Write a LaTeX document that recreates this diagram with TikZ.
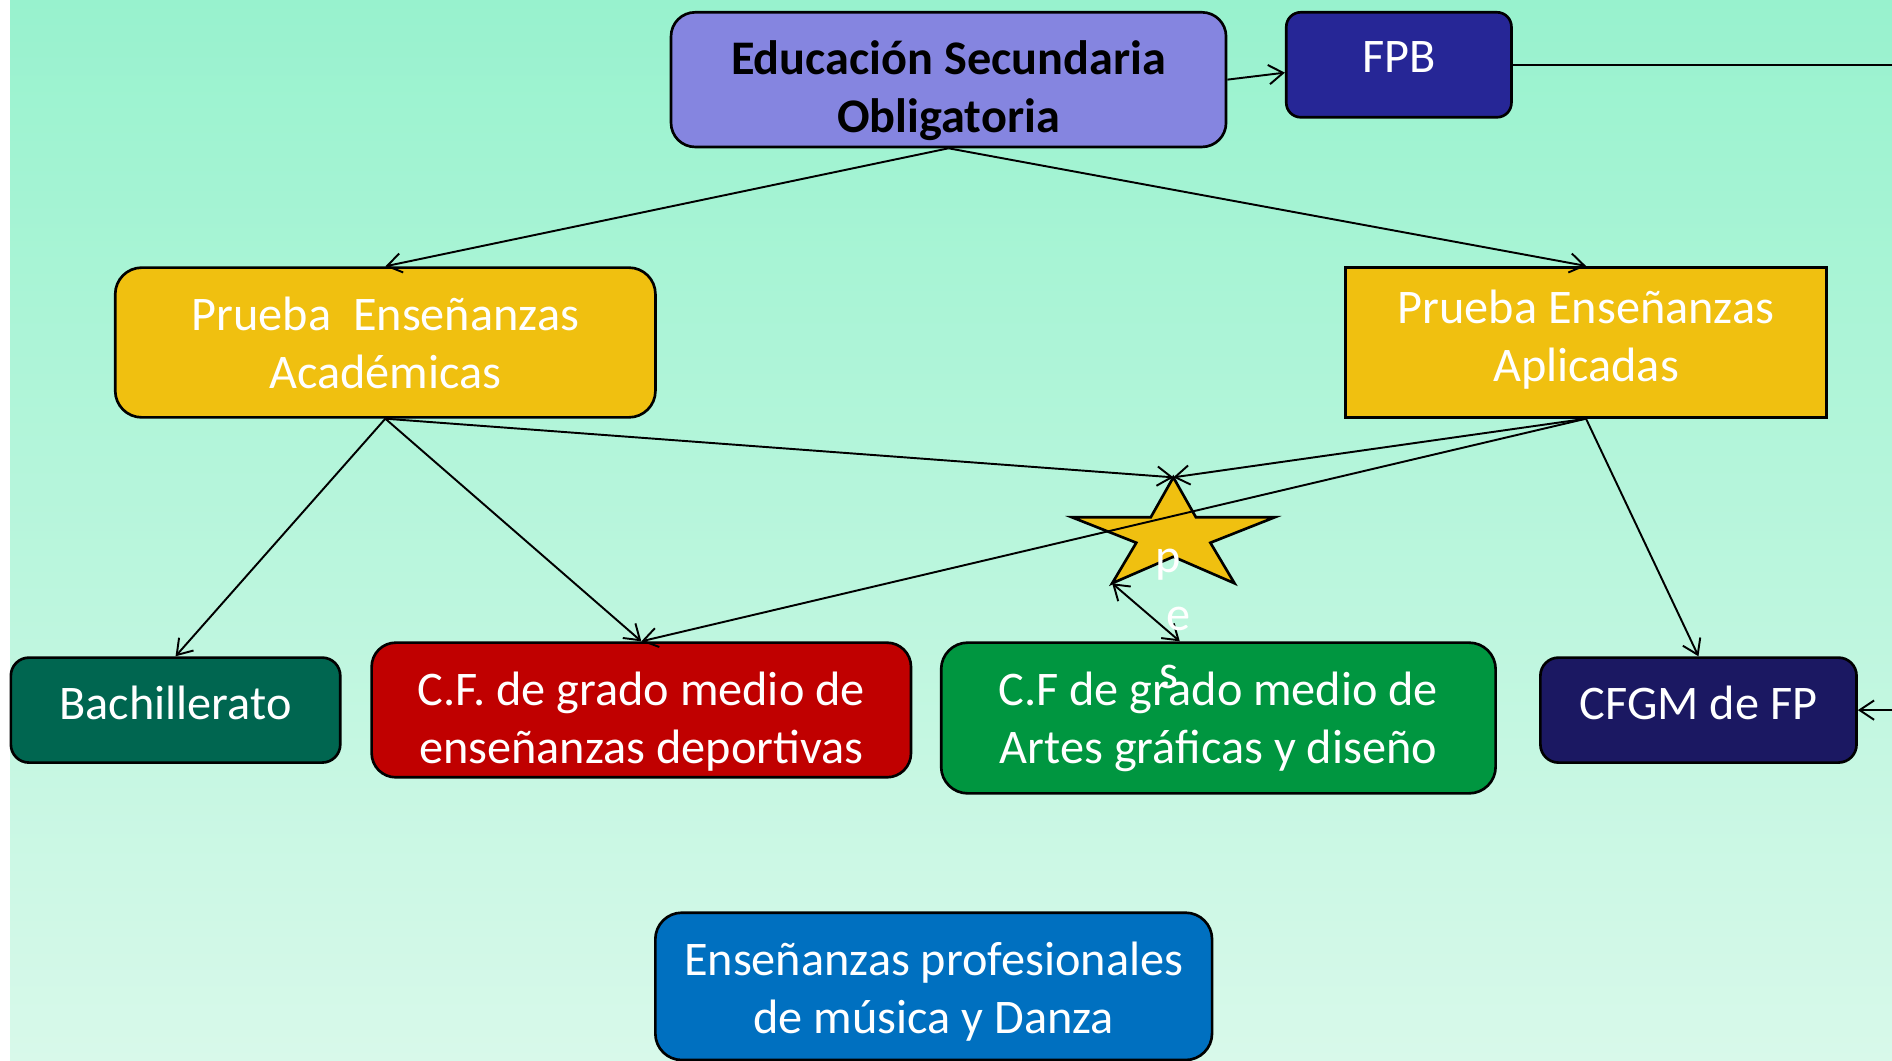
\documentclass[tikz,border=0pt]{standalone}
\usepackage{fontspec}
\setmainfont{Carlito}
\usetikzlibrary{arrows.meta,calc}
\definecolor{bgtop}{RGB}{152,242,206}
\definecolor{bgbot}{RGB}{216,249,234}
\definecolor{esoc}{RGB}{133,133,224}
\definecolor{fpbc}{RGB}{38,38,150}
\definecolor{goldc}{RGB}{240,192,16}
\definecolor{bachc}{RGB}{0,102,80}
\definecolor{redc}{RGB}{192,0,0}
\definecolor{greenc}{RGB}{0,150,64}
\definecolor{cfgmc}{RGB}{27,24,98}
\definecolor{bluec}{RGB}{0,112,192}
\begin{document}
\begin{tikzpicture}[x=1pt,y=-1pt,
  box/.style={draw=black,line width=2.2pt,inner sep=0pt,rounded corners=#1},
  box/.default=20pt,
  sharpbox/.style={draw=black,line width=2.2pt,inner sep=0pt},
  txt/.style={text=white,inner sep=0pt,align=center,font=\fontsize{40}{48}\selectfont},
  conn/.style={line width=1.6pt,-{Straight Barb[length=12pt,width=16pt]}},
  conntwo/.style={line width=1.6pt,{Straight Barb[length=12pt,width=16pt]}-{Straight Barb[length=12pt,width=16pt]}},
  plainline/.style={line width=1.6pt}
]
\useasboundingbox (0,0) rectangle (1568,879.3);
% background
\shade[top color=bgtop,bottom color=bgbot] (0,0) rectangle (1568,879.3);
\fill[white] (0,0) rectangle (8,879.3);

% boxes
\node[box, fill=esoc, minimum width=460pt, minimum height=111.6pt] (eso) at (786.1,66) {};
\node[box=12pt, fill=fpbc, minimum width=186.6pt, minimum height=87pt] (fpb) at (1159.3,53.7) {};
\node[box=22pt, fill=goldc, minimum width=447.7pt, minimum height=124.1pt] (acad) at (319.35,283.85) {};
\node[sharpbox, fill=goldc, minimum width=398.8pt, minimum height=124.4pt] (apli) at (1314.4,283.7) {};
\node[box=15pt, fill=bachc, minimum width=273pt, minimum height=87pt] (bach) at (145.5,588.5) {};
\node[box, fill=redc, minimum width=447pt, minimum height=111.6pt] (red) at (531.5,588.4) {};
\node[box=22pt, fill=greenc, minimum width=459.5pt, minimum height=124.9pt] (grn) at (1009.75,595.05) {};
\node[box=15pt, fill=cfgmc, minimum width=262pt, minimum height=87pt] (cfgm) at (1407.6,588.5) {};
\node[box=22pt, fill=bluec, minimum width=461.4pt, minimum height=122.1pt] (blue) at (773.8,817.45) {};

% texts
\node[txt, text=black, font=\fontsize{40}{48}\selectfont\bfseries] (esot) at (786.1,76.4) {\strut Educación Secundaria\\\strut Obligatoria};
\node[txt] (fpbt) at (1159.3,50.7) {\strut FPB};
\node[txt] (acadt) at (319.4,288.6) {\strut Prueba~~Enseñanzas\\\strut Académicas};
\node[txt] (aplit) at (1314.4,282.7) {\strut Prueba Enseñanzas\\\strut Aplicadas};
\node[txt] (bacht) at (145.5,586.4) {\strut Bachillerato};
\node[txt] (redt) at (531.5,599.1) {\strut C.F. de grado medio de\\\strut enseñanzas deportivas};
\node[txt] (grnt) at (1009.75,599.1) {\strut C.F de grado medio de\\\strut Artes gráficas y diseño};
\node[txt] (cfgmt) at (1407.6,586.4) {\strut CFGM de FP};
\node[txt] (bluet) at (773.8,822.9) {\strut Enseñanzas profesionales\\\strut de música y Danza};

% star
\coordinate (startop) at (972.4,395.6);
\coordinate (starbl) at (921.7,483.4);
\draw[line width=2.2pt, fill=goldc, line join=miter]
  (startop) -- (991.1,428.7) -- (1056.4,428.7) -- (1003.1,449.8) -- (1023.1,483.4)
  -- (972.4,461.4) -- (starbl) -- (941.7,449.8) -- (888.4,428.7) -- (953.7,428.7) -- cycle;

% edge coordinates
\coordinate (edgeA) at (1568,53.7);
\coordinate (edgeB) at (1568,588.5);

% connectors
\draw[conn] (eso.east) -- ($(fpb.west)+(0,6.5)$);
\draw[conn] (eso.south) -- (acad.north);
\draw[conn] (eso.south) -- (apli.north);
\draw[conn] (acad.south) -- (bach.north);
\draw[conn] (acad.south) -- (red.north);
\draw[conn] (acad.south) -- (startop);
\draw[conn] (apli.south) -- (startop);
\draw[conn] (apli.south) -- (red.north);
\draw[conn] (apli.south) -- (cfgm.north);
\draw[conntwo] (starbl) -- ($(grn.north)+(-32,0)$);
\draw[plainline] (fpb.east) -- (edgeA);
\draw[conn] (edgeB) -- (cfgm.east);

% star letters
\node[txt] (sp) at (968,464.7) {\strut p};
\node[txt] (se) at (977,512.8) {\strut e};
\node[txt] (ss) at (969,560.9) {\strut s};
\end{tikzpicture}
\end{document}
